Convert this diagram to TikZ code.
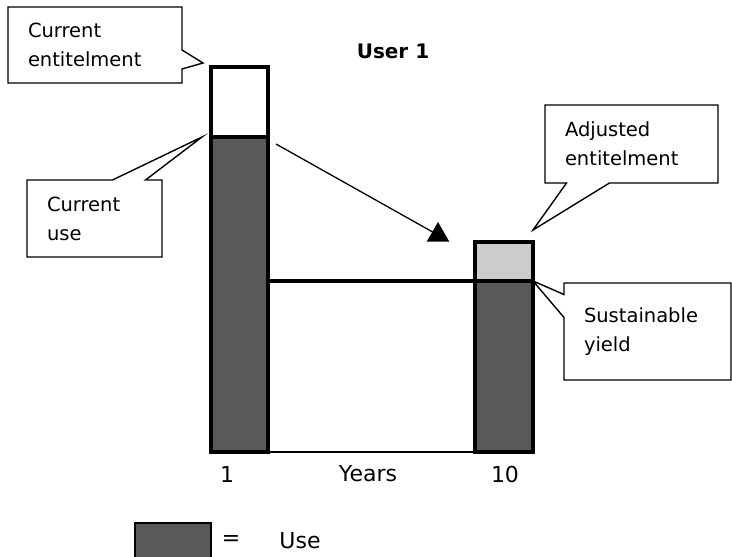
\documentclass[tikz,border=0pt]{standalone}
\usepackage{fontspec}
\setmainfont{DejaVu Sans}
\usetikzlibrary{calc,shapes.geometric,shapes.callouts}
\definecolor{usegrey}{HTML}{595959}
\definecolor{entgrey}{HTML}{CCCCCC}

\begin{document}
\begin{tikzpicture}[x=1pt,y=-1pt,
 bar/.style={draw,line width=4pt,minimum width=57pt,inner sep=0pt,outer sep=0pt,anchor=north west},
 callbox/.style={rectangle callout,draw,fill=white,line width=1.4pt,align=left,inner xsep=20pt,font=\fontsize{19.5}{29}\selectfont},
 flow/.style={line width=1.3pt},
 ticktext/.style={font=\fontsize{22}{26}\selectfont}]
\useasboundingbox (0,0) rectangle (732,557);
\node[bar,fill=white,minimum height=70pt] (ent1) at (211,67) {};
\node[bar,fill=usegrey,minimum height=315pt] (use1) at (211,137) {};
\node[bar,fill=entgrey,minimum width=58pt,minimum height=39pt] (ent2) at (475,242) {};
\node[bar,fill=usegrey,minimum width=58pt,minimum height=171pt] (use2) at (475,281) {};
\draw[line width=4pt] (use1.east |- use2.north) -- (use2.north west);
\draw[line width=1.2pt] (use1.south east) -- (use2.south west);
\node[font=\fontsize{20}{24}\selectfont\bfseries] (title) at (393,51) {User 1};
\coordinate (shift) at (276,144);
\node[regular polygon,regular polygon sides=3,fill,inner sep=0pt,minimum size=26pt] (tip) at (438,235) {};
\draw[flow] (shift) -- (tip.center);
\node[callbox,text width=134pt,minimum height=76pt,callout absolute pointer={($(ent1.north west)+(-8,-4)$)},callout pointer width=19pt] (curent) at (95,45) {Current\\entitelment};
\node[callbox,text width=95pt,minimum height=77pt,callout absolute pointer={($(ent1.south west)+(-9,0)$)},callout pointer width=33pt] (curuse) at (94.5,218.5) {Current\\use};
\node[callbox,text width=133pt,minimum height=78pt,callout absolute pointer={($(ent2.north east)+(0,-12)$)},callout pointer width=43pt] (adjent) at (631.5,144) {Adjusted\\entitelment};
\node[callbox,text width=127pt,minimum height=97pt,callout absolute pointer={(ent2.south east)},callout pointer width=23pt] (yield) at (647.5,331.5) {Sustainable\\yield};
\node[ticktext] (yr1) at (227,474) {1};
\node[ticktext] (years) at (368,474) {Years};
\node[ticktext] (yr10) at (505,474) {10};
\node[draw,line width=1.5pt,fill=usegrey,minimum width=76pt,minimum height=36pt,inner sep=0pt,outer sep=0pt,anchor=north west] (key) at (135,523) {};
\node[ticktext] (eq) at (231,541) {=};
\node[ticktext] (keyuse) at (300,541) {Use};
\end{tikzpicture}
\end{document}
